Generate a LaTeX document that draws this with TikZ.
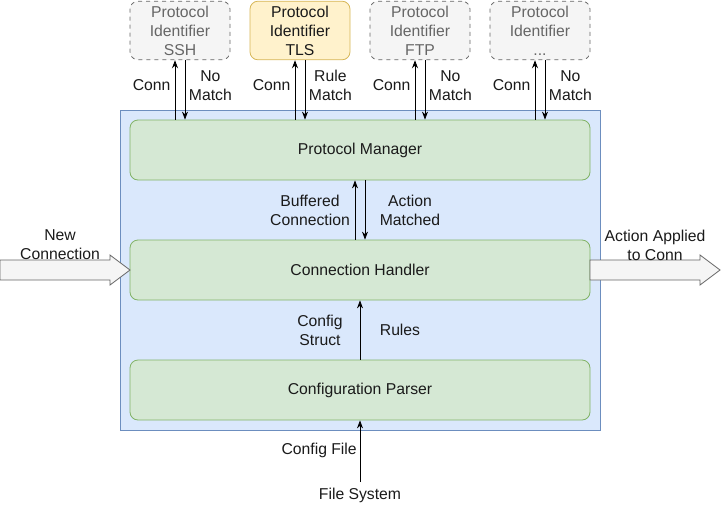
\documentclass[tikz,border=0pt]{standalone}
\usepackage{fontspec}
\setmainfont{Liberation Sans}
\usetikzlibrary{arrows.meta}
\definecolor{bluefill}{HTML}{DAE8FC}
\definecolor{bluedraw}{HTML}{6C8EBF}
\definecolor{greenfill}{HTML}{D5E8D4}
\definecolor{greendraw}{HTML}{82B366}
\definecolor{grayfill}{HTML}{F5F5F5}
\definecolor{graydraw}{HTML}{666666}
\definecolor{yellowfill}{HTML}{FFF2CC}
\definecolor{yellowdraw}{HTML}{D6B656}
\definecolor{txt}{HTML}{1A1A1A}
\tikzset{
  every node/.style={font=\fontsize{11.8pt}{14.3pt}\selectfont, text=txt, align=center, inner sep=0pt},
  container/.style={draw=bluedraw, fill=bluefill, minimum width=360pt, minimum height=240pt, line width=0.6pt},
  gbox/.style={draw=greendraw, fill=greenfill, rounded corners=6pt, minimum width=345pt, minimum height=45pt, line width=0.6pt},
  pid/.style={draw=graydraw, fill=grayfill, dashed, rounded corners=6pt, minimum width=75pt, minimum height=44pt, text=graydraw, line width=0.6pt},
  pidtls/.style={draw=yellowdraw, fill=yellowfill, rounded corners=6pt, minimum width=75pt, minimum height=44pt, line width=0.6pt},
  arr/.style={-{Stealth[length=6pt,width=4.5pt]}, line width=0.6pt, black},
  flatarrow/.style={draw=graydraw, fill=grayfill, line width=0.6pt},
}
\begin{document}
\begin{tikzpicture}[x=0.75pt,y=-0.75pt]
\useasboundingbox (0,0) rectangle (721,511);
\node[container] (cont) at (360,270) {};
\node[gbox] (pm) at (360,150) {Protocol Manager};
\node[gbox] (ch) at (360,270) {Connection Handler};
\node[gbox] (cp) at (360,390) {Configuration Parser};

\node[pid] (ssh) at (180,30.5) {Protocol\\Identifier\\SSH};
\node[pidtls] (tls) at (300,30.5) {Protocol\\Identifier\\TLS};
\node[pid] (ftp) at (420,30.5) {Protocol\\Identifier\\FTP};
\node[pid] (etc) at (540,30.5) {Protocol\\Identifier\\...};

\foreach \b/\lab in {ssh/No\\Match, tls/Rule\\Match, ftp/No\\Match, etc/No\\Match}{
  \draw[arr] ([xshift=-3.75pt]\b.south |- pm.north) -- ([xshift=-3.75pt]\b.south);
  \draw[arr] ([xshift=3.75pt]\b.south) -- ([xshift=3.75pt]\b.south |- pm.north);
  \node[anchor=east] (\b-c) at ([xshift=-7pt,yshift=-18.75pt]\b.south) {Conn};
  \node[anchor=west] (\b-m) at ([xshift=6.5pt,yshift=-18.75pt]\b.south) {\lab};
}

\draw[arr] ([xshift=-3.75pt]ch.north) -- ([xshift=-3.75pt]pm.south);
\draw[arr] ([xshift=3.75pt]pm.south) -- ([xshift=3.75pt]ch.north);
\node (bc) at (310,210) {Buffered\\Connection};
\node (am) at (410,210) {Action\\Matched};

\draw[arr] (cp.north) -- (ch.north |- ch.south);
\node (cs) at (320,330) {Config\\Struct};
\node (ru) at (400,330) {Rules};

\node (fs) at (360,495) {File System};
\coordinate (fsin) at (360,482);
\draw[arr] (fsin) -- (cp.south);
\node[anchor=east] (cf) at (357,450) {Config File};

\draw[flatarrow] (0,260) -- (110,260) -- (110,255) -- (130,270) -- (110,285) -- (110,280) -- (0,280) -- cycle;
\node (nc) at (60,245) {New\\Connection};
\draw[flatarrow] (590,260) -- (700,260) -- (700,255) -- (720,270) -- (700,285) -- (700,280) -- (590,280) -- cycle;
\node (aa) at (655,245) {Action Applied\\to Conn};
\end{tikzpicture}
\end{document}
